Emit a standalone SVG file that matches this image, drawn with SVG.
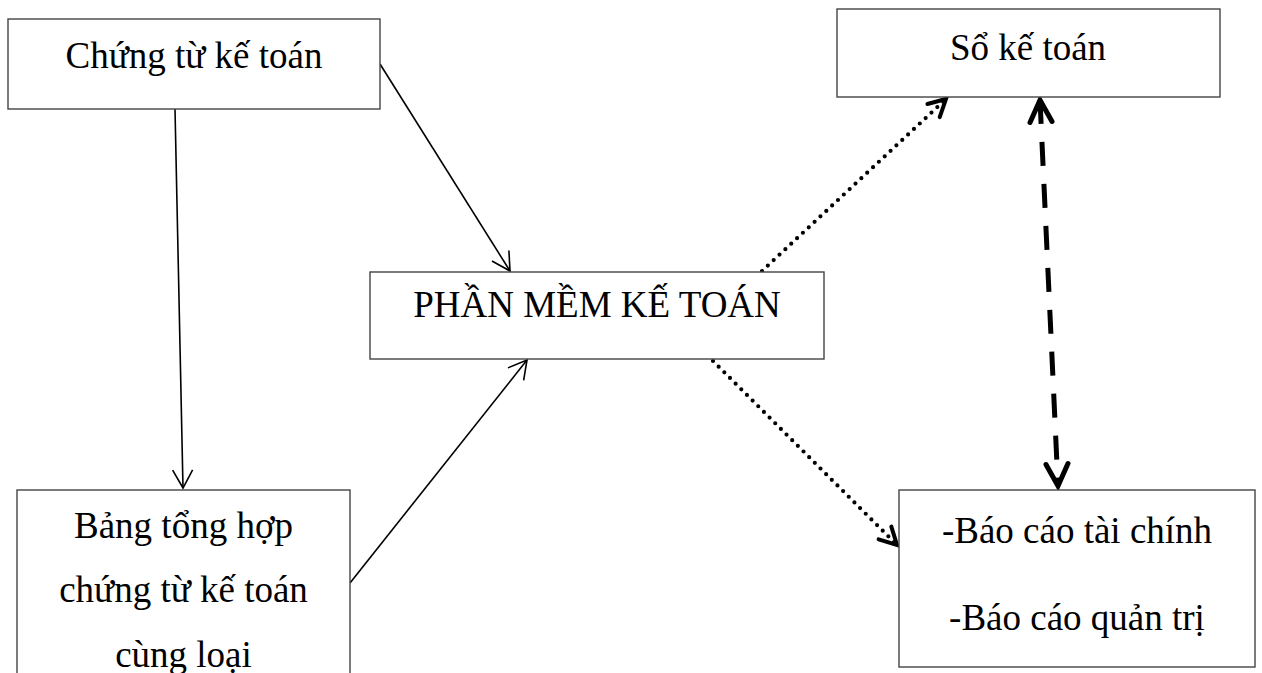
<svg xmlns="http://www.w3.org/2000/svg" width="1262" height="673" viewBox="0 0 1262 673">
  <style>
    .box { fill: #ffffff; stroke: #444444; stroke-width: 1.4; }
    .lbl { font-family: "Liberation Serif", "Times New Roman", serif; font-size: 37px; fill: #000000; text-anchor: middle; }
    .thin { fill: none; stroke: #000000; stroke-width: 1.6; }
    .dot { fill: none; stroke: #000000; stroke-width: 4.2; stroke-linecap: round; stroke-dasharray: 0 8; }
    .dash { fill: none; stroke: #000000; stroke-width: 5; stroke-dasharray: 24 18; }
  </style>
  <defs>
    <marker id="openThin" markerUnits="userSpaceOnUse" viewBox="-22 -14 26 28" refX="0" refY="0" markerWidth="26" markerHeight="28" orient="auto">
      <path d="M-18,-10 L0,0 L-18,10" fill="none" stroke="#000" stroke-width="1.6"/>
    </marker>
    <marker id="openDot" markerUnits="userSpaceOnUse" viewBox="-24 -16 30 32" refX="0" refY="0" markerWidth="30" markerHeight="32" orient="auto">
      <path d="M-17,-9 L0,0 L-17,9" fill="none" stroke="#000" stroke-width="4" stroke-linecap="round" stroke-linejoin="miter"/>
    </marker>
    <marker id="openThick" markerUnits="userSpaceOnUse" viewBox="-30 -18 36 36" refX="0" refY="0" markerWidth="36" markerHeight="36" orient="auto-start-reverse">
      <path d="M-22,-11 L0,0 L-22,11" fill="none" stroke="#000" stroke-width="5" stroke-linecap="round" stroke-linejoin="miter"/>
    </marker>
  </defs>

  <g id="connectors">
    <line class="thin" x1="175" y1="109" x2="183" y2="488" marker-end="url(#openThin)"/>
    <line class="thin" x1="380" y1="64" x2="510" y2="271" marker-end="url(#openThin)"/>
    <line class="thin" x1="350" y1="583" x2="527" y2="360" marker-end="url(#openThin)"/>
    <line class="dot" x1="762" y1="271" x2="946" y2="99" marker-end="url(#openDot)"/>
    <line class="dot" x1="713" y1="361" x2="897" y2="545" marker-end="url(#openDot)"/>
    <line class="dash" x1="1040" y1="100" x2="1058" y2="486" marker-start="url(#openThick)" marker-end="url(#openThick)"/>
  </g>

  <g id="node-chung-tu">
    <rect class="box" x="8" y="19" width="372" height="90"/>
    <text class="lbl" x="194" y="68">Chứng từ kế toán</text>
  </g>

  <g id="node-so-ke-toan">
    <rect class="box" x="837" y="9" width="383" height="88"/>
    <text class="lbl" x="1028" y="60">Sổ kế toán</text>
  </g>

  <g id="node-phan-mem">
    <rect class="box" x="370" y="272" width="454" height="87"/>
    <text class="lbl" x="597" y="317">PHẦN MỀM KẾ TOÁN</text>
  </g>

  <g id="node-bang-tong-hop">
    <rect class="box" x="17" y="490" width="333" height="200"/>
    <text class="lbl" x="183.5" y="538">Bảng tổng hợp</text>
    <text class="lbl" x="183.5" y="602">chứng từ kế toán</text>
    <text class="lbl" x="183.5" y="667">cùng loại</text>
  </g>

  <g id="node-bao-cao">
    <rect class="box" x="899" y="490" width="356" height="177"/>
    <text class="lbl" x="1077" y="543">-Báo cáo tài chính</text>
    <text class="lbl" x="1077" y="630">-Báo cáo quản trị</text>
  </g>
</svg>
